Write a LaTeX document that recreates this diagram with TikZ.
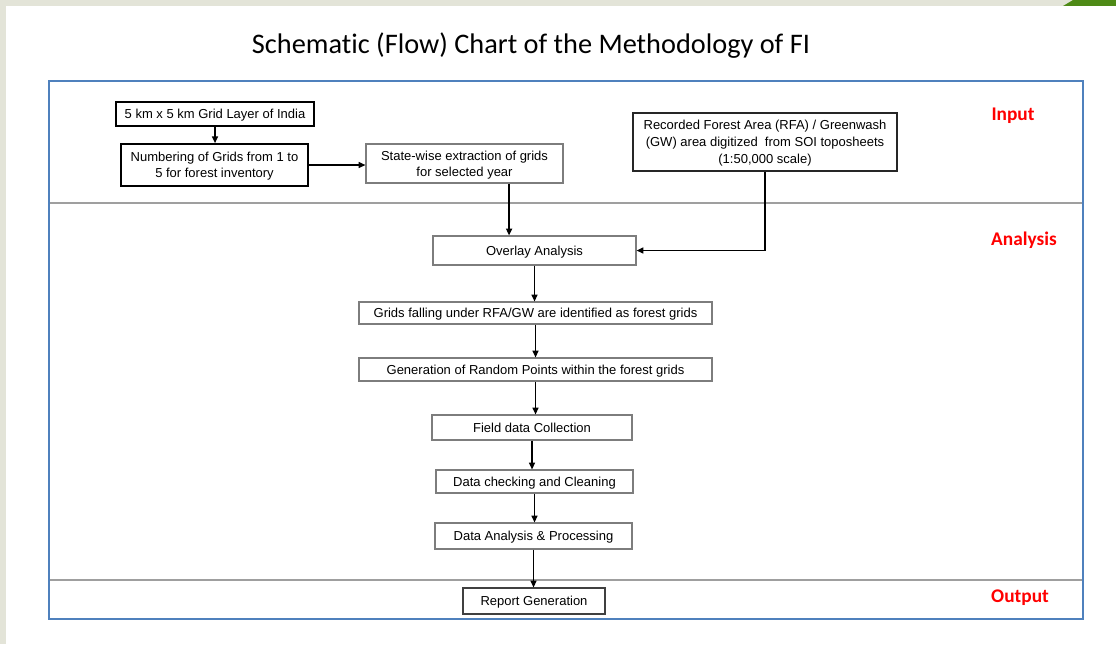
\documentclass[tikz,border=0pt]{standalone}
\usepackage{fontspec}
\setmainfont{Liberation Sans}
\newfontfamily\calibri{Carlito}[Ligatures=NoCommon]
\usetikzlibrary{arrows.meta,calc}
\definecolor{pagebg}{RGB}{227,228,216}
\definecolor{framblue}{RGB}{79,129,189}
\definecolor{leafgreen}{RGB}{78,138,22}
\definecolor{boxgray}{RGB}{125,125,125}
\begin{document}
\begin{tikzpicture}[x=0.75pt,y=-0.75pt,
  flowbox/.style={draw=boxgray,line width=0.9pt,fill=white,inner sep=0pt,align=center,
    font=\fontsize{9.75}{12}\selectfont,text height=8pt,text depth=1pt},
  twolines/.style={text height=20pt},
  threelines/.style={font=\fontsize{9.75}{12.75}\selectfont,text height=33.5pt},
  darkbox/.style={flowbox,draw=black},
  flowarrow/.style={draw=black,line width=1.05pt,-{Triangle[length=5pt,width=4.5pt]}},
  phase/.style={text=red,font=\calibri\bfseries\fontsize{14.5}{16}\selectfont},
  divider/.style={draw=gray!75,line width=0.9pt}]
% page background and slide area
\fill[pagebg] (0,0) rectangle (1116,644);
\fill[leafgreen] (1063,6) .. controls (1068,3) .. (1073,0) -- (1116,0) -- (1116,6) -- cycle;
\fill[white] (6,6) rectangle (1116,644);
\useasboundingbox (0,0) rectangle (1116,644);

% title
\node[font=\calibri\fontsize{21.25}{25}\selectfont] (title) at (531,46) {Schematic (Flow) Chart of the Methodology of FI};

% outer frame and phase dividers
\draw[divider] (49,203) coordinate (d1l) -- (1083,203) coordinate (d1r);
\draw[divider] (49,580) coordinate (d2l) -- (1083,580) coordinate (d2r);
\draw[framblue,line width=1.3pt] (49,81) rectangle (1083,619);

% phase labels
\node[phase] (lin) at (1013,116) {Input};
\node[phase] (lan) at (1024,240) {Analysis};
\node[phase] (lout) at (1020,598) {Output};

% input boxes
\node[darkbox,minimum width=148.5pt,minimum height=18pt] (grid) at (215,114) {5 km x 5 km Grid Layer of India};
\node[darkbox,twolines,line width=1.3pt,minimum width=140.25pt,minimum height=31.5pt] (numb) at (214.5,165) {Numbering of Grids from 1 to\\5 for forest inventory};
\node[flowbox,twolines,minimum width=147.75pt,minimum height=29.25pt] (state) at (464.5,163.5) {State-wise extraction of grids\\for selected year};
\node[darkbox,threelines,draw=black!85,line width=1.1pt,minimum width=198pt,minimum height=43.5pt] (rfa) at (765,142) {Recorded Forest Area (RFA) / Greenwash\\(GW) area digitized\ \ from SOI toposheets\\(1:50,000 scale)};

% analysis boxes
\node[flowbox,minimum width=152.25pt,minimum height=21.75pt] (overlay) at (534.5,250.5) {Overlay Analysis};
\node[flowbox,minimum width=264.75pt,minimum height=16.5pt] (fgrid) at (535.5,313) {Grids falling under RFA/GW are identified as forest grids};
\node[flowbox,minimum width=264.75pt,minimum height=17.25pt] (rand) at (535.5,369.5) {Generation of Random Points within the forest grids};
\node[flowbox,minimum width=150pt,minimum height=18.75pt] (field) at (532,427.5) {Field data Collection};
\node[flowbox,minimum width=147.75pt,minimum height=17.25pt] (check) at (534.5,481.5) {Data checking and Cleaning};
\node[flowbox,minimum width=147.75pt,minimum height=19.5pt] (proc) at (533.5,536) {Data Analysis \& Processing};

% output box
\node[flowbox,draw=black!75,minimum width=106.5pt,minimum height=19.5pt] (report) at (534,601) {Report Generation};

% connectors
\draw[flowarrow] (grid.south) -- (grid.south |- numb.north);
\draw[flowarrow] (numb.east) -- (numb.east -| state.west);
\coordinate (sdrop) at ($(state.south west)!0.725!(state.south east)$);
\draw[flowarrow] (sdrop) -- (sdrop |- overlay.north);
\draw[flowarrow] (rfa.south) |- (overlay.east);
\draw[flowarrow] (overlay.south) -- (overlay.south |- fgrid.north);
\draw[flowarrow] (fgrid.south) -- (fgrid.south |- rand.north);
\draw[flowarrow] (rand.south) -- (rand.south |- field.north);
\draw[flowarrow] (field.south) -- (field.south |- check.north);
\draw[flowarrow] (check.south) -- (check.south |- proc.north);
\draw[flowarrow] (proc.south) -- (proc.south |- report.north);
\end{tikzpicture}
\end{document}
